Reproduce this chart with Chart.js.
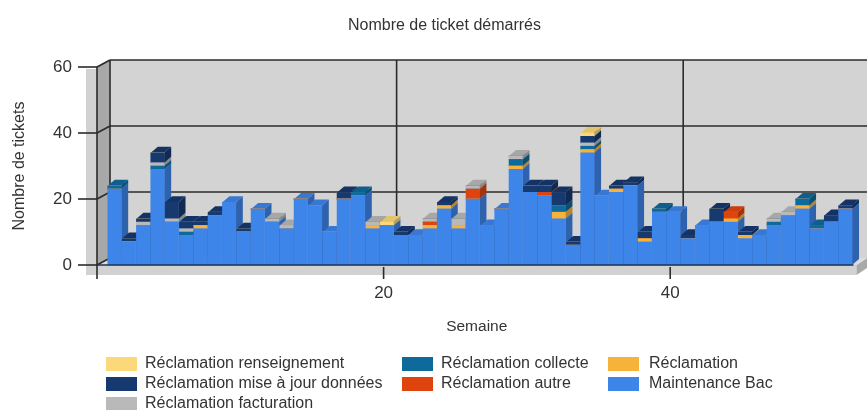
<!DOCTYPE html>
<html>
<head>
<meta charset="utf-8">
<style>
  html, body { margin: 0; padding: 0; background: #fff; }
  #wrap { width: 867px; height: 410px; overflow: hidden; }
  canvas { filter: blur(0.6px); }
</style>
<script src="https://cdn.jsdelivr.net/npm/chart.js@4"></script>
</head>
<body>
<div id="wrap"><canvas id="grafica" width="867" height="410"></canvas></div>
<script>
const semaines = [1,2,3,4,5,6,7,8,9,10,11,12,13,14,15,16,17,18,19,20,21,22,23,24,25,26,
  27,28,29,30,31,32,33,34,35,36,37,38,39,40,41,42,43,44,45,46,47,48,49,50,51,52];

const maintenanceBac = [23,7,12,29,13,9,11,15,19,10,17,13,11,20,18,10,20,21,11,12,9,9,11,17,11,20,
  12,17,29,22,21,14,6,34,21,22,24,7,16,16,8,12,13,13,8,9,12,15,17,11,13,17];
const reclamation = [0,0,0,0,0,0,1,0,0,0,0,0,0,0,0,0,0,0,1,0,0,0,1,1,1,0,
  0,0,1,0,0,2,0,1,0,1,0,1,0,0,0,0,0,1,1,0,0,0,1,0,0,0];
const reclamationAutre = [0,0,0,0,0,0,0,0,0,0,0,0,0,0,0,0,0,0,0,0,0,0,1,0,0,3,
  0,0,0,0,1,0,0,0,0,0,0,0,0,0,0,0,0,2,0,0,0,0,0,0,0,0];
const reclamationCollecte = [1,0,0,1,0,1,0,0,0,0,0,0,0,0,0,0,0,1,0,0,0,0,0,0,0,0,
  0,0,2,0,0,2,0,1,0,0,0,0,1,0,0,0,0,0,0,0,1,0,2,1,0,0];
const reclamationFacturation = [0,0,1,1,1,1,0,0,0,0,0,1,1,0,0,0,0,0,1,0,0,0,1,0,2,1,
  0,0,1,0,0,0,0,1,0,0,0,0,0,0,0,0,0,0,0,0,1,1,0,0,0,0];
const reclamationMiseAJour = [0,1,1,3,5,2,1,1,0,1,0,0,0,0,0,0,2,0,0,0,1,0,0,1,0,0,
  0,0,0,2,2,4,1,2,0,1,1,2,0,0,1,0,4,0,1,0,0,0,0,0,2,1];
const reclamationRenseignement = [0,0,0,0,0,0,0,0,0,0,0,0,0,0,0,0,0,0,0,1,0,0,0,0,0,0,
  0,0,0,0,0,0,0,1,0,0,0,0,0,0,0,0,0,0,0,0,0,0,0,0,0,0];

const tickY = [0, 20, 40, 60];
const tickX = [20, 40];

const series = [
  { label: 'Maintenance Bac', data: maintenanceBac, color: '#3e85ea' },
  { label: 'Réclamation', data: reclamation, color: '#f7b23c' },
  { label: 'Réclamation autre', data: reclamationAutre, color: '#e0440e' },
  { label: 'Réclamation collecte', data: reclamationCollecte, color: '#0f6a9c' },
  { label: 'Réclamation facturation', data: reclamationFacturation, color: '#b9b9b9' },
  { label: 'Réclamation mise à jour données', data: reclamationMiseAJour, color: '#16396f' },
  { label: 'Réclamation renseignement', data: reclamationRenseignement, color: '#fbd97a' }
];

// la leyenda va por columnas, de arriba a abajo
const leyenda = [
  { i: 6, x: 106, y: 364 }, { i: 5, x: 106, y: 384 }, { i: 4, x: 106, y: 404 },
  { i: 3, x: 402, y: 364 }, { i: 2, x: 402, y: 384 },
  { i: 1, x: 608, y: 364 }, { i: 0, x: 608, y: 384 }
];

const FONDO_X = 13, FONDO_Y = -7;   // desplazamiento de la pared del fondo
const BARRA_X = 7, BARRA_Y = -6;    // profundidad de cada barra
const FUENTE = '"Liberation Sans", Arial, sans-serif';
const TEXTO = '#333';

function sombra(hex, f) {
  const n = parseInt(hex.slice(1), 16);
  const c = [n >> 16, (n >> 8) & 255, n & 255].map(v => Math.round(v * f));
  return `rgb(${c[0]},${c[1]},${c[2]})`;
}

function poligono(ctx, puntos, color) {
  ctx.fillStyle = color;
  ctx.beginPath();
  puntos.forEach((p, i) => i ? ctx.lineTo(p[0], p[1]) : ctx.moveTo(p[0], p[1]));
  ctx.closePath();
  ctx.fill();
}

function linea(ctx, x1, y1, x2, y2) {
  ctx.beginPath();
  ctx.moveTo(x1, y1);
  ctx.lineTo(x2, y2);
  ctx.stroke();
}

// paredes, suelo y rejilla
const paredes = {
  id: 'paredes',
  beforeDatasetsDraw(chart) {
    const { ctx, scales } = chart;
    const x = scales.x, y = scales.y;
    const l = x.left, r = x.right, t = y.top, b = y.bottom;
    const fin = 867;
    ctx.save();
    // franja clara de la izquierda y de abajo
    poligono(ctx, [[86, t + 2], [l, t + 2], [l, b + 10], [86, b + 10]], '#d2d2d2');
    poligono(ctx, [[86, b], [r, b], [r, b + 10], [86, b + 10]], '#d2d2d2');
    poligono(ctx, [[r, b], [fin, b + FONDO_Y], [fin, b + FONDO_Y + 10], [r, b + 10]], '#a9a9a9');
    // pared del fondo, pared izquierda y suelo
    poligono(ctx, [[l + FONDO_X, t + FONDO_Y], [fin, t + FONDO_Y], [fin, b + FONDO_Y], [l + FONDO_X, b + FONDO_Y]], '#d3d3d3');
    poligono(ctx, [[l, t], [l + FONDO_X, t + FONDO_Y], [l + FONDO_X, b + FONDO_Y], [l, b]], '#a8a8a8');
    poligono(ctx, [[l, b], [l + FONDO_X, b + FONDO_Y], [fin, b + FONDO_Y], [r, b]], '#dcdcdc');

    ctx.strokeStyle = '#2b2b2b';
    ctx.lineWidth = 1.6;
    tickY.forEach(v => {
      const py = y.getPixelForValue(v);
      linea(ctx, 78, py, l, py);
      linea(ctx, l, py, l + FONDO_X, py + FONDO_Y);
      if (v > 0) linea(ctx, l + FONDO_X, py + FONDO_Y, fin, py + FONDO_Y);
    });
    linea(ctx, l, t, l, b + 14);
    linea(ctx, l + FONDO_X, t + FONDO_Y, l + FONDO_X, b + FONDO_Y);
    tickX.forEach(v => {
      const px = x.getPixelForValue(v);
      linea(ctx, px + FONDO_X, t + FONDO_Y, px + FONDO_X, b + FONDO_Y);
      linea(ctx, px, b + 2, px, b + 14);
    });
    ctx.restore();
  }
};

// caras lateral y superior de cada barra, columna por columna
const barras3d = {
  id: 'barras3d',
  beforeDatasetsDraw(chart) {
    const { ctx } = chart;
    const metas = series.map((s, i) => chart.getDatasetMeta(i));
    ctx.save();
    semaines.forEach((s, col) => {
      metas.forEach((meta, i) => {
        const el = meta.data[col];
        if (!el || series[i].data[col] === 0) return;
        const p = el.getProps(['x', 'y', 'base', 'width'], true);
        const der = p.x + p.width / 2, izq = p.x - p.width / 2;
        poligono(ctx, [[der, p.base], [der + BARRA_X, p.base + BARRA_Y], [der + BARRA_X, p.y + BARRA_Y], [der, p.y]], sombra(series[i].color, 0.74));
        poligono(ctx, [[izq, p.y], [izq + BARRA_X, p.y + BARRA_Y], [der + BARRA_X, p.y + BARRA_Y], [der, p.y]], sombra(series[i].color, 0.9));
      });
    });
    ctx.restore();
  },
  afterDatasetsDraw(chart) {
    const { ctx, scales } = chart;
    const b = scales.y.bottom;
    ctx.save();
    ctx.strokeStyle = '#1c3556';
    ctx.lineWidth = 1.6;
    linea(ctx, scales.x.left, b, scales.x.right - 3, b);
    ctx.restore();
  }
};

// título y leyenda van a mano porque el título no está centrado en el canvas
const textos = {
  id: 'textos',
  afterDraw(chart) {
    const { ctx } = chart;
    ctx.save();
    ctx.textBaseline = 'middle';
    ctx.fillStyle = TEXTO;
    ctx.font = '16px ' + FUENTE;
    ctx.textAlign = 'center';
    ctx.fillText('Nombre de ticket démarrés', 444.5, 26);
    ctx.textAlign = 'left';
    leyenda.forEach(e => {
      const s = series[e.i];
      ctx.fillStyle = s.color;
      ctx.fillRect(e.x, e.y - 7, 31, 14);
      ctx.fillStyle = TEXTO;
      ctx.fillText(s.label, e.i === 1 || e.i === 0 ? e.x + 41 : e.x + 39, e.y);
    });
    ctx.restore();
  }
};

new Chart(document.getElementById('grafica'), {
  type: 'bar',
  data: {
    datasets: series.map(s => ({
      label: s.label,
      data: semaines.map((w, i) => ({ x: w, y: s.data[i] })),
      backgroundColor: s.color,
      xAxisID: 'xBar',
      barThickness: 13.4,
      borderWidth: 0,
      clip: false
    }))
  },
  options: {
    responsive: false,
    animation: false,
    layout: { padding: { left: 10, right: 10.5, top: 67, bottom: 74 } },
    plugins: {
      legend: { display: false },
      tooltip: { enabled: false },
      title: { display: false }
    },
    scales: {
      x: {
        type: 'linear',
        offset: false,
        min: 0,
        max: 53,
        grid: { display: false, drawTicks: false, offset: false },
        border: { display: false },
        afterFit: s => { s.height = 71; s.paddingLeft = 0; s.paddingRight = 0; },
        ticks: {
          stepSize: 20,
          padding: 18,
          color: TEXTO,
          font: { family: FUENTE, size: 17 },
          maxRotation: 0,
          callback: v => (tickX.includes(v) ? v : '')
        },
        title: {
          display: true,
          text: 'Semaine',
          color: TEXTO,
          font: { family: FUENTE, size: 15.5 },
          padding: { top: 0, bottom: 0 }
        }
      },
      xBar: {
        type: 'linear',
        display: false,
        stacked: true,
        offset: false,
        grid: { offset: false },
        min: -0.22,
        max: 52.78
      },
      y: {
        stacked: true,
        min: 0,
        max: 60,
        grid: { display: false, drawTicks: false },
        border: { display: false },
        afterFit: s => { s.width = 87; },
        ticks: {
          stepSize: 20,
          padding: 25,
          color: TEXTO,
          font: { family: FUENTE, size: 17 }
        },
        title: {
          display: true,
          text: 'Nombre de tickets',
          color: TEXTO,
          font: { family: FUENTE, size: 16 },
          padding: { top: 0, bottom: 0 }
        }
      }
    }
  },
  plugins: [paredes, barras3d, textos]
});
</script>
</body>
</html>
